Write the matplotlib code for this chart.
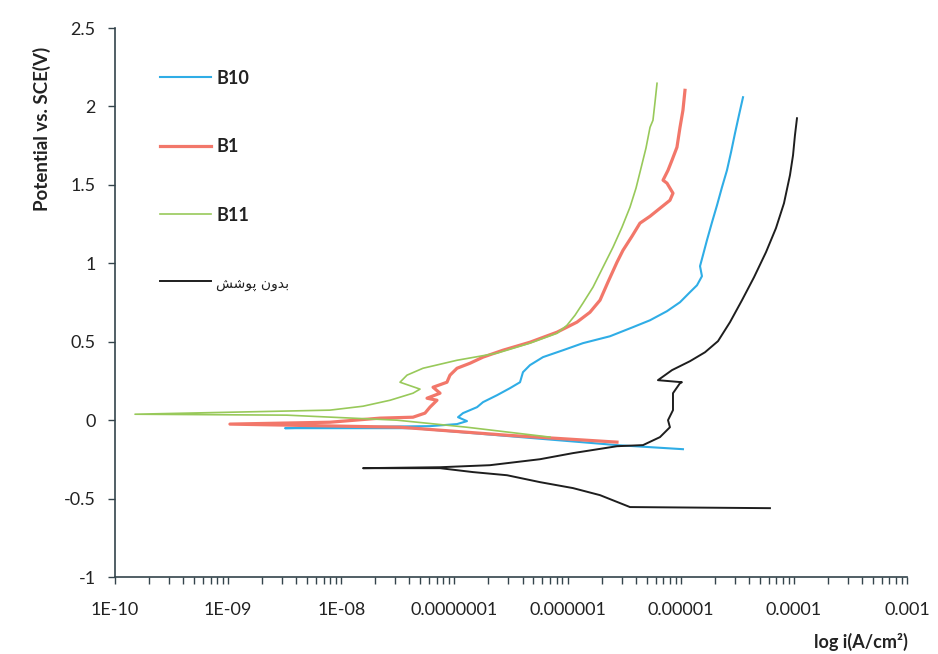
import numpy as np
import matplotlib
matplotlib.use("Agg")
import matplotlib.pyplot as plt
from matplotlib.ticker import FixedLocator, LogLocator, NullFormatter

# ---- data: log10 of current density (A/cm2) and potential vs SCE (V) ----
# each curve runs from the cathodic end, through the corrosion tip, to the anodic end

b10_logi = [-4.980, -5.563, -7.366, -8.497, -8.100, -7.216, -6.977, -6.889, -6.968, -6.924,
            -6.800, -6.747, -6.624, -6.509, -6.420, -6.394, -6.332, -6.217, -6.040, -5.864,
            -5.625, -5.422, -5.271, -5.121, -5.006, -4.918, -4.856, -4.812, -4.829, -4.803,
            -4.768, -4.723, -4.679, -4.635, -4.591, -4.555, -4.520, -4.485, -4.449]
b10_e = [-0.185, -0.159, -0.051, -0.051, -0.045, -0.038, -0.025, -0.006, 0.019, 0.045,
         0.083, 0.115, 0.159, 0.204, 0.242, 0.306, 0.351, 0.402, 0.446, 0.491,
         0.535, 0.593, 0.637, 0.695, 0.752, 0.816, 0.860, 0.918, 0.982, 1.052,
         1.147, 1.262, 1.370, 1.485, 1.593, 1.708, 1.829, 1.944, 2.059]

b1_logi = [-5.563, -6.535, -7.366, -7.481, -8.984, -8.100, -7.658, -7.366, -7.260, -7.216,
           -7.154, -7.242, -7.127, -7.189, -7.066, -7.039, -6.977, -6.862, -6.747, -6.571,
           -6.332, -6.093, -5.917, -5.802, -5.713, -5.643, -5.563, -5.510, -5.430, -5.360,
           -5.271, -5.183, -5.095, -5.068, -5.121, -5.156, -5.112, -5.077, -5.033, -5.006,
           -4.980, -4.962]
b1_e = [-0.140, -0.096, -0.051, -0.045, -0.025, -0.013, 0.013, 0.019, 0.045, 0.083,
        0.127, 0.140, 0.172, 0.210, 0.242, 0.287, 0.331, 0.363, 0.402, 0.446,
        0.497, 0.561, 0.625, 0.688, 0.765, 0.880, 1.007, 1.083, 1.173, 1.256,
        1.300, 1.351, 1.402, 1.447, 1.511, 1.530, 1.593, 1.657, 1.740, 1.867,
        1.976, 2.103]

b11_logi = [-6.155, -6.889, -7.508, -8.480, -9.823, -8.100, -7.808, -7.569, -7.366, -7.304,
            -7.481, -7.419, -7.278, -6.977, -6.624, -6.332, -6.093, -6.005, -5.934, -5.864,
            -5.775, -5.687, -5.598, -5.519, -5.448, -5.395, -5.351, -5.307, -5.271, -5.245,
            -5.227, -5.209]
b11_e = [-0.108, -0.045, 0.000, 0.032, 0.038, 0.064, 0.089, 0.127, 0.172, 0.198,
         0.242, 0.287, 0.331, 0.382, 0.427, 0.491, 0.554, 0.605, 0.669, 0.746,
         0.848, 0.975, 1.103, 1.230, 1.358, 1.479, 1.606, 1.734, 1.867, 1.912,
         2.027, 2.148]

bare_logi = [-4.211, -5.448, -5.713, -5.952, -6.244, -6.535, -6.836, -7.127, -7.808, -7.127,
             -6.686, -6.244, -5.952, -5.563, -5.333, -5.183, -5.095, -5.112, -5.068, -5.068,
             -5.006, -4.989, -5.201, -5.077, -4.918, -4.785, -4.670, -4.564, -4.458, -4.352,
             -4.246, -4.158, -4.087, -4.034, -4.007, -3.990, -3.972]
bare_e = [-0.561, -0.554, -0.478, -0.433, -0.395, -0.351, -0.331, -0.306, -0.306, -0.300,
          -0.287, -0.249, -0.210, -0.166, -0.159, -0.108, -0.045, 0.000, 0.064, 0.172,
          0.236, 0.242, 0.255, 0.319, 0.376, 0.433, 0.504, 0.625, 0.765, 0.911,
          1.071, 1.224, 1.383, 1.562, 1.689, 1.816, 1.925]

labels = ["B10", "B1", "B11", "بدون پوشش"]
colors = ["#2fade6", "#f2776a", "#98c95a", "#1e1e1e"]
x_ticks = [1e-10, 1e-9, 1e-8, 1e-7, 1e-6, 1e-5, 1e-4, 1e-3]
x_ticklabels = ["1E-10", "1E-09", "1E-08", "0.0000001", "0.000001", "0.00001", "0.0001", "0.001"]
y_ticks = [-1, -0.5, 0, 0.5, 1, 1.5, 2, 2.5]
y_ticklabels = ["-1", "-0.5", "0", "0.5", "1", "1.5", "2", "2.5"]

# ---- arabic shaping by hand (matplotlib has no bidi / joining) ----
FORMS = {  # isolated, final, initial, medial
    "ب": "\ufe8f\ufe90\ufe91\ufe92",
    "د": "\ufea9\ufeaa",
    "و": "\ufeed\ufeee",
    "ن": "\ufee5\ufee6\ufee7\ufee8",
    "پ": "\ufb56\ufb57\ufb58\ufb59",
    "ش": "\ufeb5\ufeb6\ufeb7\ufeb8",
}

def shape_word(word):
    out = []
    for i, ch in enumerate(word):
        f = FORMS[ch]
        prev = i > 0 and len(FORMS[word[i - 1]]) == 4
        nxt = i < len(word) - 1 and len(f) == 4
        out.append(f[{(False, False): 0, (True, False): 1, (False, True): 2, (True, True): 3}[(prev, nxt)]])
    return "".join(reversed(out))

def shape(text):
    return " ".join(reversed([shape_word(w) for w in text.split()]))

plt.rcParams["font.family"] = ["Lato", "DejaVu Sans"]

fig = plt.figure(figsize=(9.38, 6.54), dpi=100)
ax = fig.add_axes([0.1226, 0.1177, 0.8443, 0.8394])

curves = [(b10_logi, b10_e, 1.5), (b1_logi, b1_e, 2.3), (b11_logi, b11_e, 1.2), (bare_logi, bare_e, 1.4)]
for (lx, ey, lw), lab, col in zip(curves, labels, colors):
    ax.plot(np.power(10.0, lx), ey, color=col, lw=lw, label=lab if lab.isascii() else shape(lab))

ax.set_xscale("log")
ax.set_xlim(1e-10, 1e-3)
ax.set_ylim(-1, 2.5)
ax.xaxis.set_major_locator(FixedLocator(x_ticks))
ax.set_xticklabels(x_ticklabels)
ax.xaxis.set_minor_locator(LogLocator(base=10, subs=np.arange(2, 10), numticks=20))
ax.xaxis.set_minor_formatter(NullFormatter())
ax.set_yticks(y_ticks)
ax.set_yticklabels(y_ticklabels)

spine_col = "#34444c"
for s in ["top", "right"]:
    ax.spines[s].set_visible(False)
for s in ["left", "bottom"]:
    ax.spines[s].set_color(spine_col)
    ax.spines[s].set_linewidth(1.2)
ax.tick_params(axis="both", which="both", direction="out", length=5, width=1.0, color=spine_col,
               labelsize=13, labelcolor="#222222")
ax.tick_params(axis="y", pad=9)
ax.tick_params(axis="x", pad=13)

leg = ax.legend(loc="upper left", bbox_to_anchor=(0.057, 0.924), frameon=False, borderpad=0,
                borderaxespad=0, handlelength=2.8, handletextpad=0.3, labelspacing=2.85,
                prop={"size": 13, "weight": "bold"})
for t in leg.get_texts():
    t.set_color("#222222")
fa = leg.get_texts()[3]
fa.set_fontfamily(["DejaVu Sans"])
fa.set_fontweight("normal")
fa.set_fontsize(10)

fig.text(42 / 938, 1 - 129 / 654, "Potential vs. SCE(V)", rotation=90, ha="center", va="center",
         fontsize=13.5, fontweight="bold", color="#222222")
fig.text(908 / 938, 1 - 642 / 654, "log i(A/cm²)", ha="right", va="center",
         fontsize=13, fontweight="bold", color="#222222")

fig.savefig("out.png", dpi=100, facecolor="white")
